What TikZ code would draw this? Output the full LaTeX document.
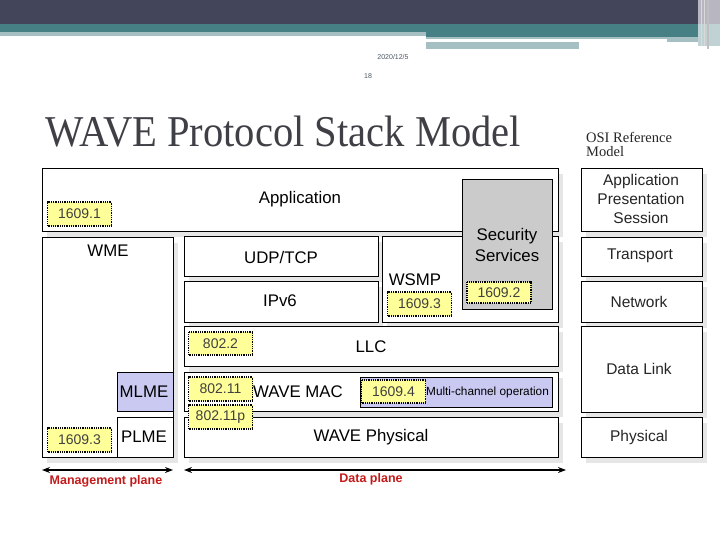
\documentclass[tikz,border=0pt]{standalone}
\usepackage{fontspec}
\setmainfont{Liberation Sans}
\newfontfamily\serifft{Liberation Serif}
\usepackage{graphicx}
\usetikzlibrary{arrows.meta,shadows}
\definecolor{hdrdark}{HTML}{43455A}
\definecolor{hdrteal}{HTML}{467F84}
\definecolor{hdrlight}{HTML}{A6BFC2}
\definecolor{hdrstripe}{HTML}{B7B6C1}
\definecolor{titlegray}{HTML}{3F3F46}
\definecolor{shadowgray}{HTML}{E6E6E6}
\definecolor{tagyellow}{HTML}{FFFF99}
\definecolor{lavender}{HTML}{C9C9F2}
\definecolor{secgray}{HTML}{CBCBCB}
\definecolor{planered}{HTML}{C41A1A}
\definecolor{datecol}{HTML}{4A5560}
\tikzset{
  box/.style={draw=black, line width=0.8pt, fill=white, inner sep=0pt,
    general shadow={fill=shadowgray, shadow xshift=5pt, shadow yshift=-6pt}},
  flatbox/.style={draw=black, line width=0.8pt, inner sep=0pt},
  tag/.style={draw=black, fill=tagyellow, line width=1.4pt, dash pattern=on 1pt off 0.8pt,
    minimum width=64pt, minimum height=24pt, inner sep=0pt,
    font=\fontsize{14}{14}\selectfont, text=black!75},
  lbl/.style={inner sep=0pt, font=\fontsize{16.8}{18}\selectfont},
  osilbl/.style={inner sep=0pt, align=center, font=\fontsize{15.5}{19}\selectfont, text=black!85},
  plane/.style={inner sep=0pt, font=\fontsize{12.5}{13}\selectfont\bfseries, text=planered},
  planearrow/.style={line width=1.8pt, {Stealth[length=8pt,width=6pt]}-{Stealth[length=8pt,width=6pt]}}
}
\begin{document}
\begin{tikzpicture}[x=1pt,y=-1pt]
\useasboundingbox (0,0) rectangle (720,540);
% header
\fill[hdrdark] (0,0) rectangle (720,24);
\fill[hdrteal] (0,24) rectangle (720,32);
\fill[hdrlight] (0,32) rectangle (426,36);
\fill[hdrteal] (426,32) rectangle (698,37);
\fill[hdrlight] (426,37) rectangle (698,39);
\fill[hdrlight] (667,39) rectangle (698,42);
\fill[hdrlight] (426,42) rectangle (579,49);
\fill[hdrstripe] (698,0) rectangle (720,24);
\fill[hdrlight!70!white] (698,24) rectangle (720,46);
\draw[white!85!black, line width=1pt] (701,0) -- (701,46);
\draw[white!75!black, line width=1.2pt] (708,0) -- (708,49);
\draw[white!85!black, line width=0.8pt] (704,0) -- (704,46);
\node[inner sep=0pt, text=datecol, font=\fontsize{7}{7}\selectfont] (date) at (393,57) {2020/12/5};
\node[inner sep=0pt, text=datecol, font=\fontsize{7}{7}\selectfont] (pageno) at (368,76) {18};
% title
\node[anchor=base west, inner sep=0pt, text=titlegray, font=\serifft\fontsize{44}{44}\selectfont] (title) at (45,147) {\scalebox{0.922}[1]{WAVE Protocol Stack Model}};
\node[anchor=base west, inner sep=0pt, align=left, font=\serifft\fontsize{14.5}{14}\selectfont, text=black!85] (osititle) at (586,157) {OSI Reference\\Model};
% WAVE stack boxes
\node[box, minimum width=516pt, minimum height=63pt] (app) at (300,199.5) {};
\node[box, minimum width=131pt, minimum height=220pt] (wme) at (107.5,347) {};
\node[box, minimum width=194pt, minimum height=40pt] (udp) at (281,256) {};
\node[box, minimum width=194pt, minimum height=41pt] (ipv6) at (281,301.5) {};
\node[box, minimum width=176pt, minimum height=86pt] (wsmp) at (470,279) {};
\node[box, minimum width=374pt, minimum height=40pt] (llc) at (371,346) {};
\node[box, minimum width=374pt, minimum height=39pt] (mac) at (371,391.5) {};
\node[box, minimum width=374pt, minimum height=40pt] (phy) at (371,437) {};
\node[flatbox, fill=lavender, minimum width=56pt, minimum height=39pt] (mlme) at (145,391.5) {};
\node[flatbox, fill=white, minimum width=56pt, minimum height=40pt] (plme) at (145,437) {};
\node[flatbox, fill=secgray, minimum width=90pt, minimum height=130pt] (sec) at (507,244) {};
\node[flatbox, fill=lavender, line width=0.6pt, minimum width=192pt, minimum height=30pt] (multi) at (456,392) {};
% labels
\node[lbl] (appt) at (300,199) {Application};
\node[lbl] (wmet) at (108,251) {WME};
\node[lbl] (udpt) at (281,257) {UDP/TCP};
\node[lbl] (ipv6t) at (280,301) {IPv6};
\node[lbl] (wsmpt) at (415,280) {WSMP};
\node[lbl, align=center, font=\fontsize{16.8}{21}\selectfont] (sect) at (507,245) {Security\\Services};
\node[lbl] (llct) at (371,347) {LLC};
\node[lbl, anchor=west] (mact) at (253,392) {WAVE MAC};
\node[lbl] (mlmet) at (144,392) {MLME};
\node[lbl] (plmet) at (144,437) {PLME};
\node[lbl] (phyt) at (371,437) {WAVE Physical};
\node[inner sep=0pt, anchor=west, font=\fontsize{11.8}{12}\selectfont] (multit) at (426,392) {Multi-channel operation};
% tags
\node[tag] (t1) at (79.5,214) {1609.1};
\node[tag] (t3m) at (79.5,440) {1609.3};
\node[tag] (t3w) at (419.5,304) {1609.3};
\node[tag, minimum height=21pt] (t2) at (499,292.5) {1609.2};
\node[tag, minimum height=23pt] (t8022) at (220.5,343.5) {802.2};
\node[tag] (t80211) at (220.5,389) {802.11};
\node[tag] (t80211p) at (220.5,417) {802.11p};
\node[tag, minimum height=23pt] (t4) at (393.5,391.5) {1609.4};
% OSI boxes
\node[box, minimum width=121pt, minimum height=63pt] (osiapp) at (641.5,199.5) {};
\node[box, minimum width=121pt, minimum height=39pt] (ositr) at (641.5,256.5) {};
\node[box, minimum width=121pt, minimum height=41pt] (osinet) at (641.5,301.5) {};
\node[box, minimum width=121pt, minimum height=86pt] (osidl) at (641.5,369) {};
\node[box, minimum width=121pt, minimum height=40pt] (osiphy) at (641.5,437) {};
\node[osilbl] (osiappt) at (641,199) {Application\\Presentation\\Session};
\node[osilbl] (ositrt) at (640,256) {Transport};
\node[osilbl] (osinett) at (639,302) {Network};
\node[osilbl] (osidlt) at (639,369) {Data Link};
\node[osilbl] (osiphyt) at (639,437) {Physical};
% planes
\coordinate (mL) at (42,470);
\coordinate (mR) at (173,470);
\coordinate (dL) at (184,470);
\coordinate (dR) at (566,470);
\draw[planearrow] (mL) -- (mR);
\draw[planearrow] (dL) -- (dR);
\node[plane] (mgmt) at (106,481) {Management plane};
\node[plane] (data) at (371,479) {Data plane};
\end{tikzpicture}
\end{document}
